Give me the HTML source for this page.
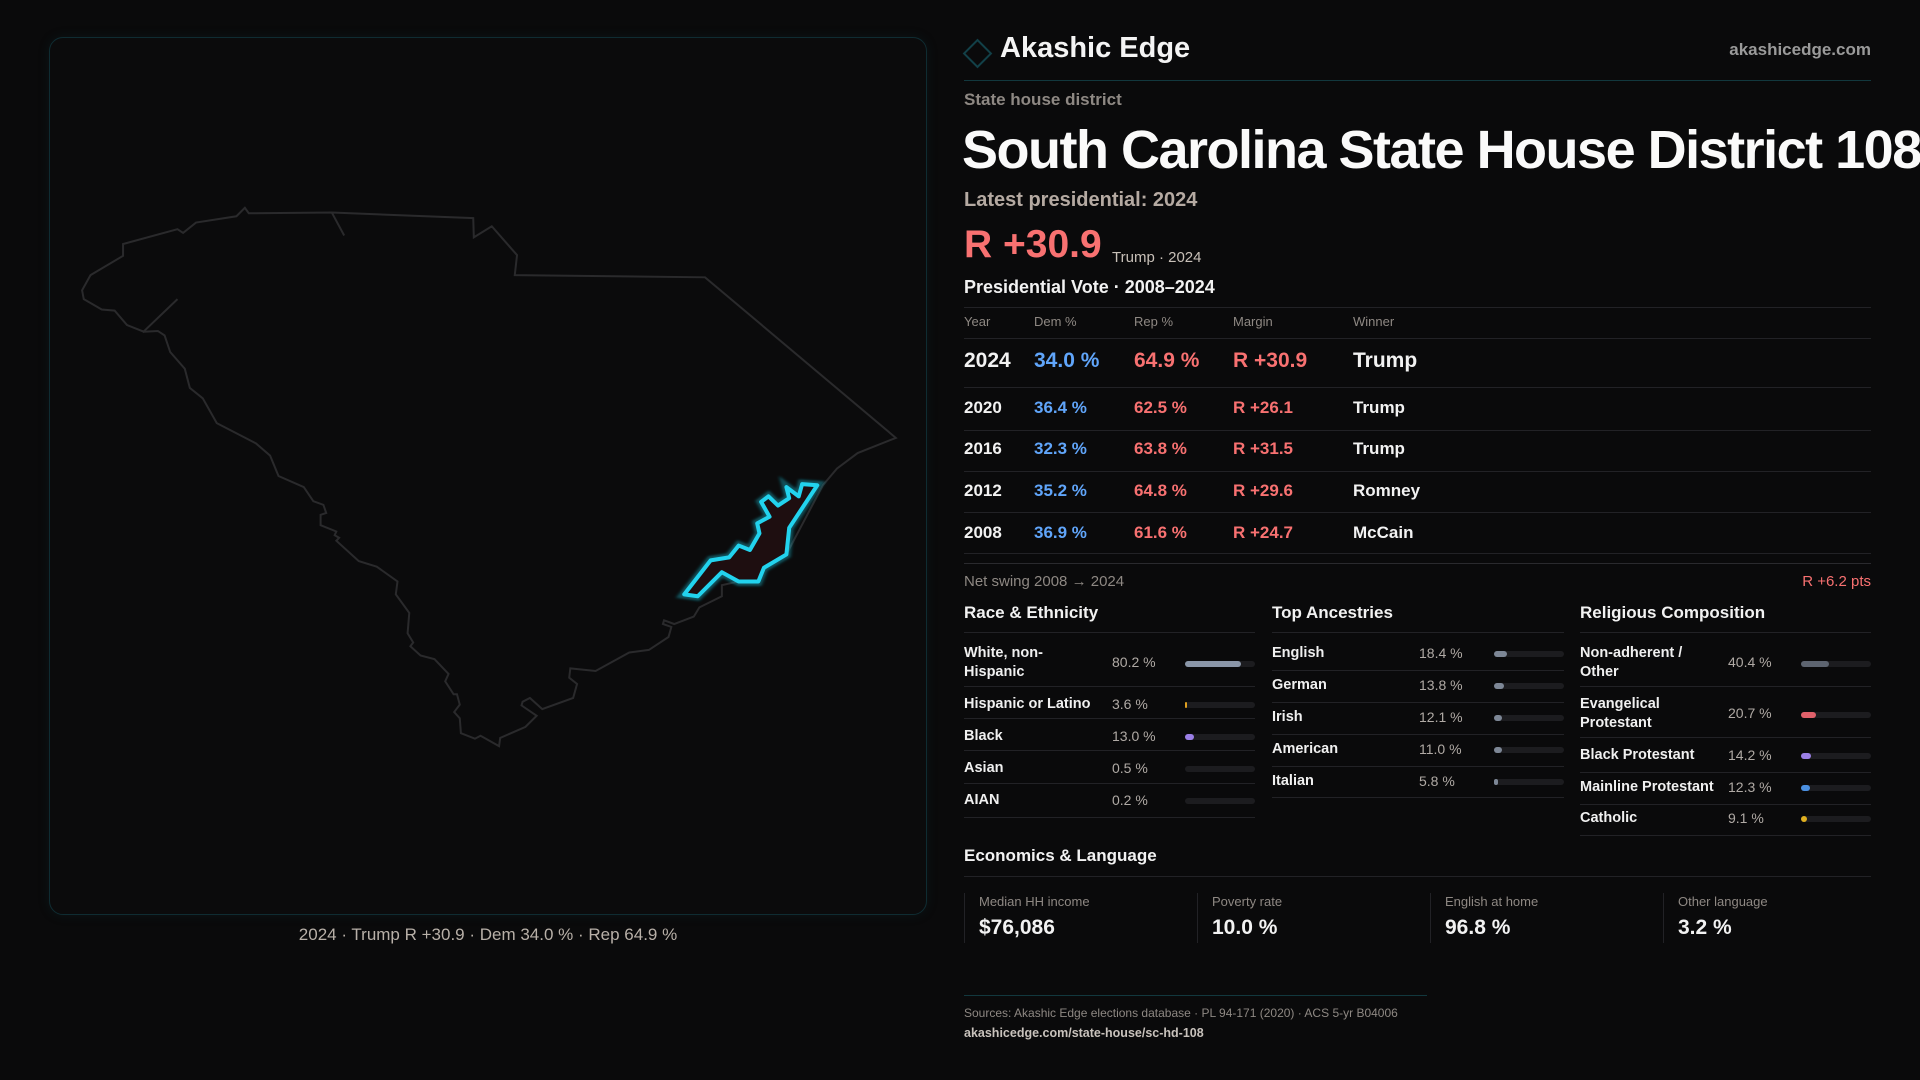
<!DOCTYPE html>
<html><head><meta charset="utf-8"><style>
*{margin:0;padding:0;box-sizing:border-box}
html,body{width:1920px;height:1080px;background:#0a0a0b;overflow:hidden;font-family:"Liberation Sans",sans-serif;color:#f2f2f2}
.a{position:absolute;white-space:nowrap}
.g{color:#8e8883}
.line{position:absolute;height:1px;background:#222226}
.hdr{font-size:13px;color:#8e8883}
.r{color:#f87171}.b{color:#60a5fa}
.lab{font-size:14.5px;font-weight:bold;color:#f0f0f0;line-height:19px}
.val{font-size:14px;color:#b0aaa5}
.tr{position:absolute;height:6px;border-radius:3px;background:#1c1c1f}
.tr i{position:absolute;left:0;top:0;height:6px;border-radius:3px;display:block}
</style></head><body>
<div style="position:absolute;left:49px;top:37px;width:878px;height:878px;border:1px solid #0f2c32;border-radius:14px;background:#0b0b0c;box-shadow:0 0 12px rgba(20,80,90,0.15)"></div>
<svg class="a" style="left:0;top:0" width="940" height="930">
<defs><filter id="gl" x="-50%" y="-50%" width="200%" height="200%"><feGaussianBlur stdDeviation="3"/></filter></defs>
<g transform="translate(40,180) scale(0.5612,0.3700)">
<path vector-effect="non-scaling-stroke" fill="none" stroke="#2a2a2c" stroke-width="2" d="M365,75 L372,90 L520,88 L772,103 L773,155 L805,125 L850,203 L846,257 L1185,263 L1525,697 L1457,738 L1420,780 L1395,825 L1330,1012 L1290,1048 L1245,1085 L1215,1095 L1215,1125 L1175,1155 L1165,1180 L1130,1200 L1112,1190 L1110,1200 L1125,1208 L1120,1235 L1085,1270 L1050,1277 L990,1327 L945,1320 L943,1345 L957,1362 L950,1400 L895,1430 L873,1400 L860,1410 L858,1420 L885,1448 L865,1478 L820,1508 L818,1530 L785,1502 L775,1510 L750,1495 L748,1455 L738,1438 L748,1418 L743,1390 L737,1390 L722,1355 L728,1335 L703,1295 L678,1285 L660,1260 L665,1250 L655,1225 L658,1170 L634,1120 L637,1085 L600,1045 L568,1030 L528,975 L533,967 L525,960 L528,950 L500,933 L500,905 L510,900 L505,878 L487,868 L470,830 L425,800 L410,745 L385,712 L315,657 L290,590 L267,562 L258,510 L232,465 L222,420 L210,408 L185,410 L155,392 L133,353 L110,350 L78,322 L75,298 L90,257 L148,205 L148,173 L245,133 L255,143 L278,115 L350,98 Z M520,88 L542,150 M245,322 L183,412"/>
<path vector-effect="non-scaling-stroke" fill="#1e0e10" stroke="#22d3ee" stroke-width="9" stroke-opacity="0.35" filter="url(#gl)" d="M1385,825 L1358,822 L1352,855 L1330,830 L1335,860 L1315,880 L1298,855 L1285,870 L1300,910 L1278,928 L1282,955 L1265,1000 L1245,988 L1228,1020 L1195,1028 L1148,1120 L1172,1125 L1215,1060 L1245,1085 L1280,1085 L1290,1048 L1330,1012 L1335,940 Z"/>
<path vector-effect="non-scaling-stroke" fill="#1e0e10" stroke="#22d3ee" stroke-width="4" stroke-linejoin="round" d="M1385,825 L1358,822 L1352,855 L1330,830 L1335,860 L1315,880 L1298,855 L1285,870 L1300,910 L1278,928 L1282,955 L1265,1000 L1245,988 L1228,1020 L1195,1028 L1148,1120 L1172,1125 L1215,1060 L1245,1085 L1280,1085 L1290,1048 L1330,1012 L1335,940 Z"/>
</g></svg>
<div class="a" style="left:0;width:976px;text-align:center;top:925px;font-size:17px;color:#b8b0a8">2024 · Trump R +30.9 · Dem 34.0 % · Rep 64.9 %</div>

<div class="a" style="left:967px;top:43px;width:21px;height:21px;border:2px solid #124048;transform:rotate(45deg)"></div>
<div class="a" style="left:1000px;top:32px;font-size:29px;font-weight:bold;color:#f4f4f4">Akashic Edge</div>
<div class="a" style="right:49px;top:40px;font-size:17px;font-weight:bold;color:#9a9a9a">akashicedge.com</div>
<div class="line" style="left:964px;width:907px;top:80px;background:#12383e"></div>
<div class="a g" style="left:964px;top:90px;font-size:17px;font-weight:bold">State house district</div>
<div class="a" style="left:962px;top:119px;font-size:54px;font-weight:bold;letter-spacing:-1.5px;color:#fafafa">South Carolina State House District 108</div>
<div class="a" style="left:964px;top:189px;font-size:20px;font-weight:bold;color:#b5aaa2">Latest presidential: 2024</div>
<div class="a r" style="left:964px;top:223px;font-size:39px;font-weight:bold">R +30.9</div>
<div class="a" style="left:1112px;top:249px;font-size:15px;color:#c8c0b8">Trump · 2024</div>
<div class="a" style="left:964px;top:277px;font-size:18px;font-weight:bold">Presidential Vote · 2008–2024</div>
<div class="line" style="left:964px;width:907px;top:307px"></div>
<div class="a hdr" style="left:964px;top:314px">Year</div><div class="a hdr" style="left:1034px;top:314px">Dem %</div><div class="a hdr" style="left:1134px;top:314px">Rep %</div><div class="a hdr" style="left:1233px;top:314px">Margin</div><div class="a hdr" style="left:1353px;top:314px">Winner</div>
<div class="line" style="left:964px;width:907px;top:338px"></div>
<div style="position:absolute;left:964px;top:349px;font-size:21px;font-weight:bold">
<span class="a" style="left:0">2024</span><span class="a b" style="left:70px">34.0 %</span><span class="a r" style="left:170px">64.9 %</span><span class="a r" style="left:269px">R +30.9</span><span class="a" style="left:389px">Trump</span></div>
<div class="line" style="left:964px;width:907px;top:387px"></div>
<div style="position:absolute;left:964px;top:398px;font-size:17px;font-weight:bold">
<span class="a" style="left:0">2020</span><span class="a b" style="left:70px">36.4 %</span><span class="a r" style="left:170px">62.5 %</span><span class="a r" style="left:269px">R +26.1</span><span class="a" style="left:389px">Trump</span></div>
<div class="line" style="left:964px;width:907px;top:430px"></div>
<div style="position:absolute;left:964px;top:439px;font-size:17px;font-weight:bold">
<span class="a" style="left:0">2016</span><span class="a b" style="left:70px">32.3 %</span><span class="a r" style="left:170px">63.8 %</span><span class="a r" style="left:269px">R +31.5</span><span class="a" style="left:389px">Trump</span></div>
<div class="line" style="left:964px;width:907px;top:471px"></div>
<div style="position:absolute;left:964px;top:481px;font-size:17px;font-weight:bold">
<span class="a" style="left:0">2012</span><span class="a b" style="left:70px">35.2 %</span><span class="a r" style="left:170px">64.8 %</span><span class="a r" style="left:269px">R +29.6</span><span class="a" style="left:389px">Romney</span></div>
<div class="line" style="left:964px;width:907px;top:512px"></div>
<div style="position:absolute;left:964px;top:523px;font-size:17px;font-weight:bold">
<span class="a" style="left:0">2008</span><span class="a b" style="left:70px">36.9 %</span><span class="a r" style="left:170px">61.6 %</span><span class="a r" style="left:269px">R +24.7</span><span class="a" style="left:389px">McCain</span></div>
<div class="line" style="left:964px;width:907px;top:553px"></div>
<div class="line" style="left:964px;width:907px;top:563px;background:#2a2a2e"></div>
<div class="a g" style="left:964px;top:573px;font-size:15px">Net swing 2008 → 2024</div>
<div class="a r" style="right:49px;top:573px;font-size:15px">R +6.2 pts</div>

<div class="a" style="left:964px;top:603px;font-size:17px;font-weight:bold">Race &amp; Ethnicity</div>
<div class="a" style="left:1272px;top:603px;font-size:17px;font-weight:bold">Top Ancestries</div>
<div class="a" style="left:1580px;top:603px;font-size:17px;font-weight:bold">Religious Composition</div>
<div class="line" style="left:964px;width:291px;top:632px"></div>
<div class="line" style="left:1272px;width:292px;top:632px"></div>
<div class="line" style="left:1580px;width:291px;top:632px"></div>

<!-- race -->
<div class="a lab" style="left:964px;top:644px">White, non-<br>Hispanic</div><div class="a val" style="left:1112px;top:654px">80.2 %</div><div class="tr" style="left:1185px;width:70px;top:661px"><i style="width:56px;background:#8a96a8"></i></div>
<div class="line" style="left:964px;width:291px;top:686px"></div>
<div class="a lab" style="left:964px;top:695px">Hispanic or Latino</div><div class="a val" style="left:1112px;top:696px">3.6 %</div><div class="tr" style="left:1185px;width:70px;top:702px"><i style="width:2px;background:#e0a020"></i></div>
<div class="line" style="left:964px;width:291px;top:718px"></div>
<div class="a lab" style="left:964px;top:727px">Black</div><div class="a val" style="left:1112px;top:728px">13.0 %</div><div class="tr" style="left:1185px;width:70px;top:734px"><i style="width:9px;background:#9b7fe6"></i></div>
<div class="line" style="left:964px;width:291px;top:750px"></div>
<div class="a lab" style="left:964px;top:759px">Asian</div><div class="a val" style="left:1112px;top:760px">0.5 %</div><div class="tr" style="left:1185px;width:70px;top:766px"></div>
<div class="line" style="left:964px;width:291px;top:783px"></div>
<div class="a lab" style="left:964px;top:791px">AIAN</div><div class="a val" style="left:1112px;top:792px">0.2 %</div><div class="tr" style="left:1185px;width:70px;top:798px"></div>
<div class="line" style="left:964px;width:291px;top:817px"></div>

<!-- ancestry -->
<div class="a lab" style="left:1272px;top:644px">English</div><div class="a val" style="left:1419px;top:645px">18.4 %</div><div class="tr" style="left:1494px;width:70px;top:651px"><i style="width:13px;background:#7d8796"></i></div>
<div class="line" style="left:1272px;width:292px;top:670px"></div>
<div class="a lab" style="left:1272px;top:676px">German</div><div class="a val" style="left:1419px;top:677px">13.8 %</div><div class="tr" style="left:1494px;width:70px;top:683px"><i style="width:10px;background:#7d8796"></i></div>
<div class="line" style="left:1272px;width:292px;top:702px"></div>
<div class="a lab" style="left:1272px;top:708px">Irish</div><div class="a val" style="left:1419px;top:709px">12.1 %</div><div class="tr" style="left:1494px;width:70px;top:715px"><i style="width:8px;background:#7d8796"></i></div>
<div class="line" style="left:1272px;width:292px;top:734px"></div>
<div class="a lab" style="left:1272px;top:740px">American</div><div class="a val" style="left:1419px;top:741px">11.0 %</div><div class="tr" style="left:1494px;width:70px;top:747px"><i style="width:8px;background:#7d8796"></i></div>
<div class="line" style="left:1272px;width:292px;top:766px"></div>
<div class="a lab" style="left:1272px;top:772px">Italian</div><div class="a val" style="left:1419px;top:773px">5.8 %</div><div class="tr" style="left:1494px;width:70px;top:779px"><i style="width:4px;background:#7d8796"></i></div>
<div class="line" style="left:1272px;width:292px;top:797px"></div>

<!-- religion -->
<div class="a lab" style="left:1580px;top:644px">Non-adherent /<br>Other</div><div class="a val" style="left:1728px;top:654px">40.4 %</div><div class="tr" style="left:1801px;width:70px;top:661px"><i style="width:28px;background:#5d6470"></i></div>
<div class="line" style="left:1580px;width:291px;top:686px"></div>
<div class="a lab" style="left:1580px;top:695px">Evangelical<br>Protestant</div><div class="a val" style="left:1728px;top:705px">20.7 %</div><div class="tr" style="left:1801px;width:70px;top:712px"><i style="width:15px;background:#e0606a"></i></div>
<div class="line" style="left:1580px;width:291px;top:737px"></div>
<div class="a lab" style="left:1580px;top:746px">Black Protestant</div><div class="a val" style="left:1728px;top:747px">14.2 %</div><div class="tr" style="left:1801px;width:70px;top:753px"><i style="width:10px;background:#9b7fe6"></i></div>
<div class="line" style="left:1580px;width:291px;top:772px"></div>
<div class="a lab" style="left:1580px;top:778px">Mainline Protestant</div><div class="a val" style="left:1728px;top:779px">12.3 %</div><div class="tr" style="left:1801px;width:70px;top:785px"><i style="width:9px;background:#4a8fe0"></i></div>
<div class="line" style="left:1580px;width:291px;top:804px"></div>
<div class="a lab" style="left:1580px;top:809px">Catholic</div><div class="a val" style="left:1728px;top:810px">9.1 %</div><div class="tr" style="left:1801px;width:70px;top:816px"><i style="width:6px;background:#e0b020"></i></div>
<div class="line" style="left:1580px;width:291px;top:835px"></div>

<div class="a" style="left:964px;top:846px;font-size:17px;font-weight:bold">Economics &amp; Language</div>
<div class="line" style="left:964px;width:907px;top:876px"></div>
<div class="a" style="left:964px;top:893px;width:1px;height:50px;background:#222226"></div>
<div class="a" style="left:1197px;top:893px;width:1px;height:50px;background:#222226"></div>
<div class="a" style="left:1430px;top:893px;width:1px;height:50px;background:#222226"></div>
<div class="a" style="left:1663px;top:893px;width:1px;height:50px;background:#222226"></div>
<div class="a g" style="left:979px;top:894px;font-size:13px">Median HH income</div><div class="a" style="left:979px;top:916px;font-size:21px;font-weight:bold">$76,086</div>
<div class="a g" style="left:1212px;top:894px;font-size:13px">Poverty rate</div><div class="a" style="left:1212px;top:916px;font-size:21px;font-weight:bold">10.0 %</div>
<div class="a g" style="left:1445px;top:894px;font-size:13px">English at home</div><div class="a" style="left:1445px;top:916px;font-size:21px;font-weight:bold">96.8 %</div>
<div class="a g" style="left:1678px;top:894px;font-size:13px">Other language</div><div class="a" style="left:1678px;top:916px;font-size:21px;font-weight:bold">3.2 %</div>

<div class="line" style="left:964px;width:463px;top:995px;background:#12383e"></div>
<div class="a g" style="left:964px;top:1006px;font-size:12px">Sources: Akashic Edge elections database · PL 94-171 (2020) · ACS 5-yr B04006</div>
<div class="a" style="left:964px;top:1026px;font-size:12.5px;font-weight:bold;color:#c8c2bc">akashicedge.com/state-house/sc-hd-108</div>
</body></html>
